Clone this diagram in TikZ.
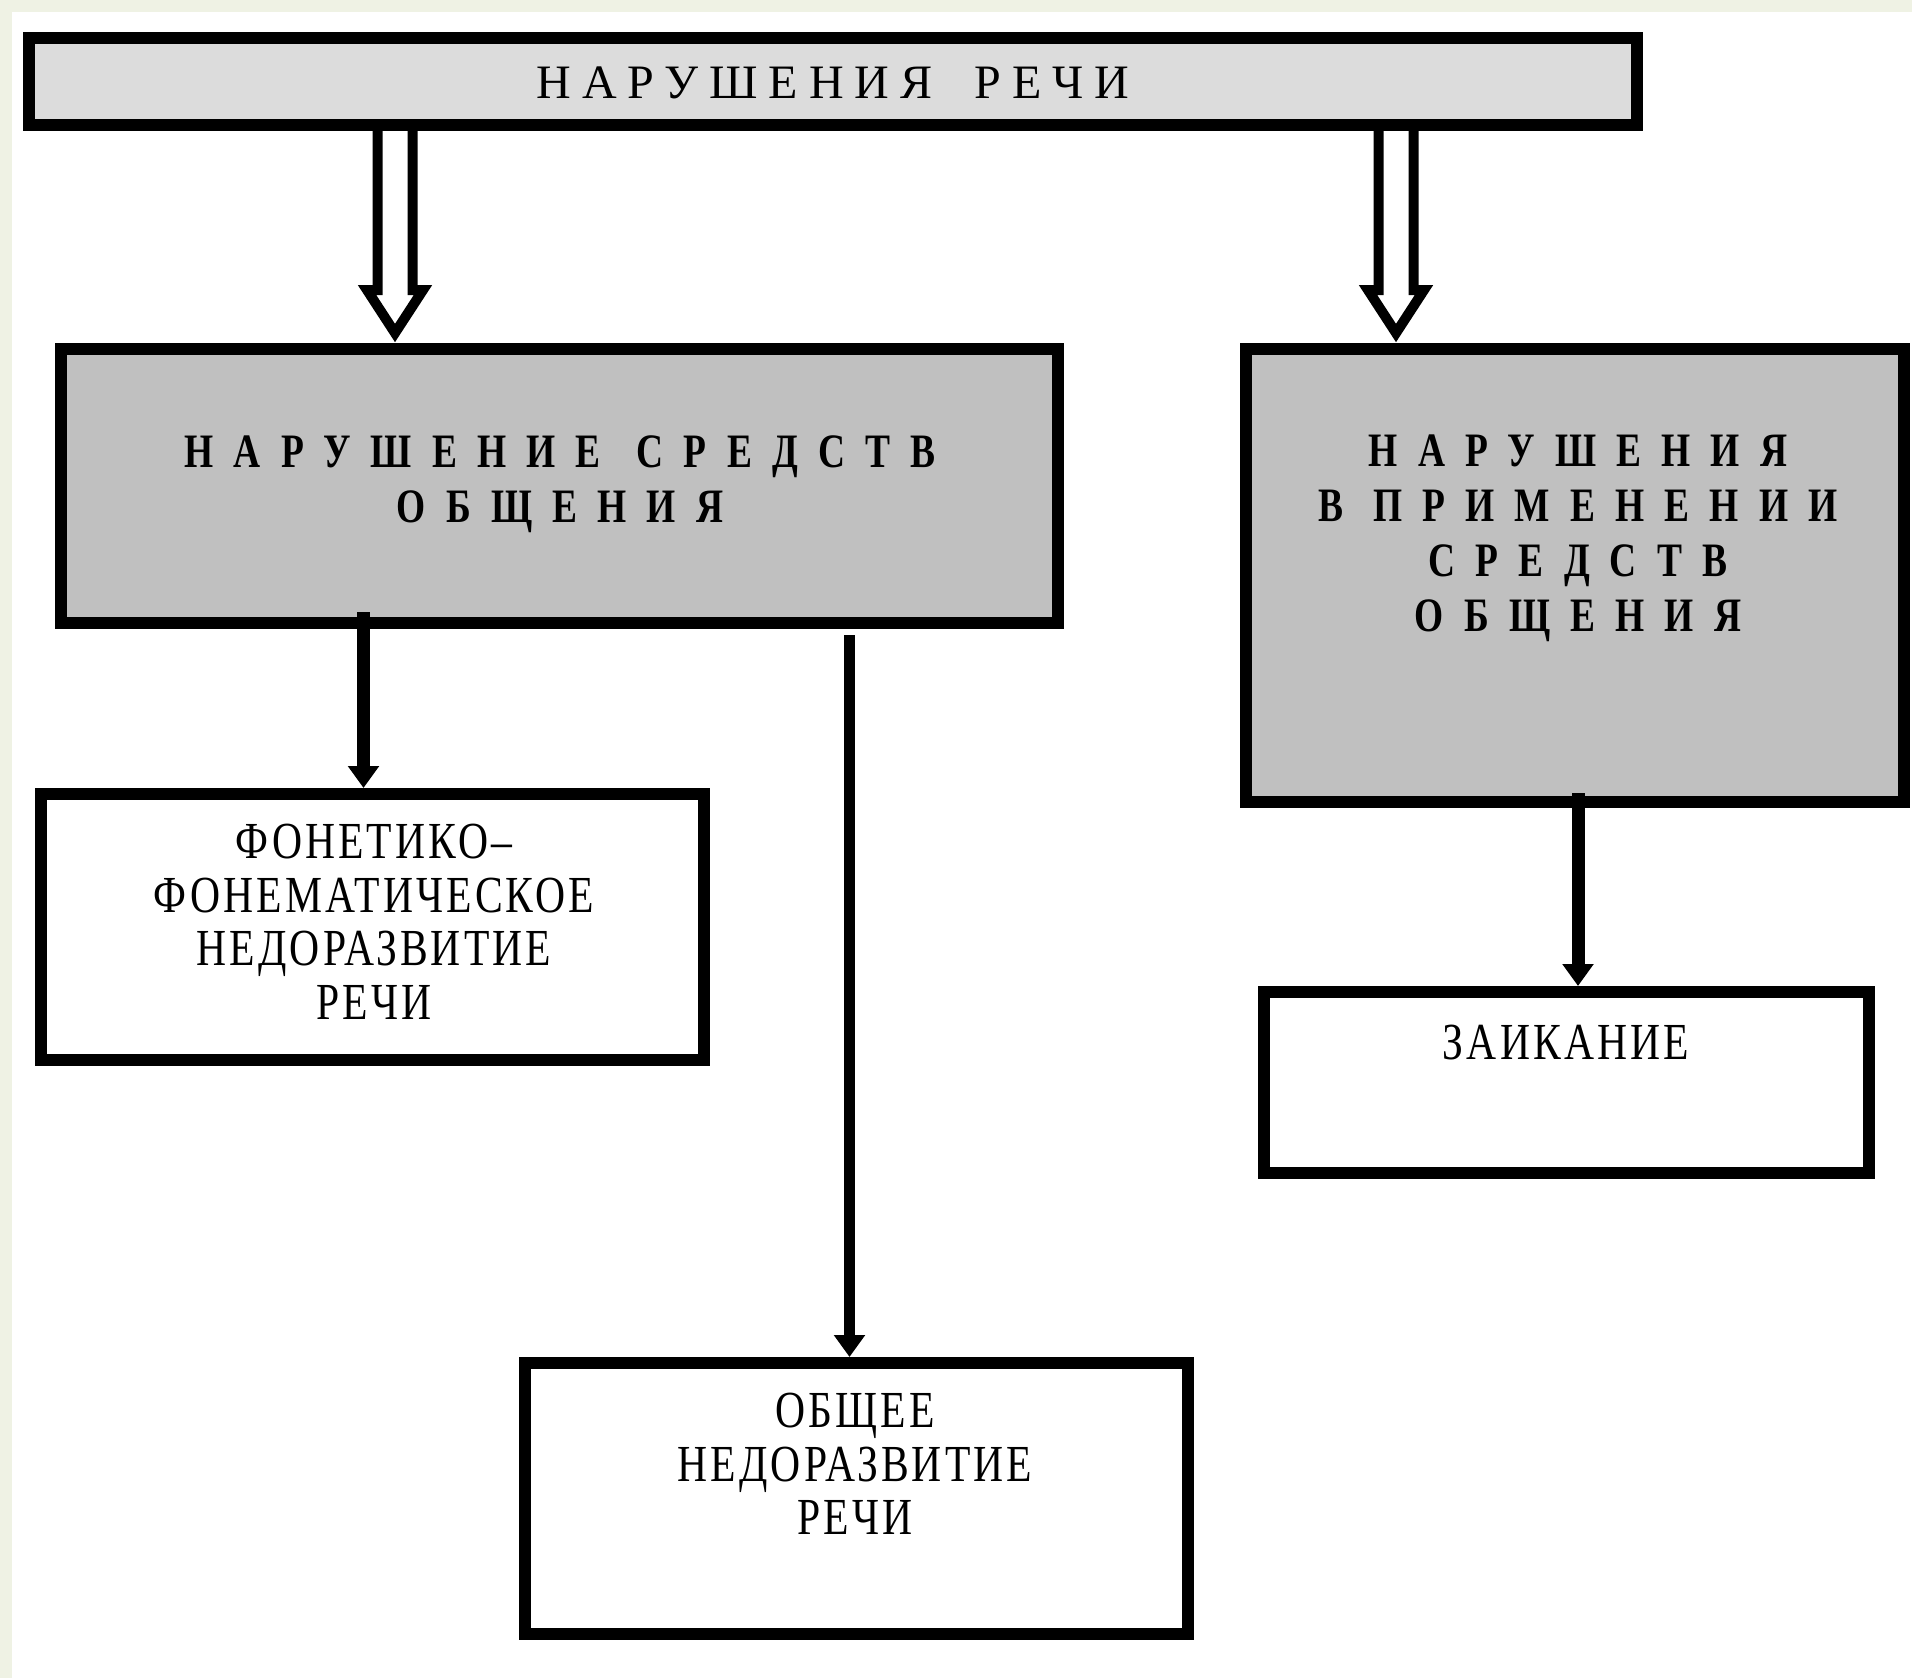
\documentclass[tikz,border=0pt]{standalone}
\usepackage{fontspec}
\setmainfont{Liberation Serif}
\newfontfamily\topfont{Liberation Serif}[LetterSpace=23]
\newfontfamily\headfont{Liberation Serif}[FakeStretch=0.78,LetterSpace=42]
\newfontfamily\leaffont{Liberation Serif}[FakeStretch=0.8,LetterSpace=6]
\usetikzlibrary{arrows.meta,calc}
\definecolor{bgtint}{HTML}{EFF2E4}
\definecolor{barfill}{HTML}{DCDCDC}
\definecolor{headfill}{HTML}{C0C0C0}
\tikzset{
  boxbase/.style={draw=black, line width=12pt, rectangle, inner sep=0pt, outer sep=0pt},
  topbar/.style={boxbase, fill=barfill},
  headbox/.style={boxbase, fill=headfill},
  leafbox/.style={boxbase, fill=white},
  bartext/.style={font=\topfont\fontsize{48}{55}\selectfont, inner sep=0pt},
  headtext/.style={font=\headfont\bfseries\fontsize{48}{55}\selectfont, align=center, inner sep=0pt},
  leaftext/.style={font=\leaffont\fontsize{52}{53.5}\selectfont, align=center, inner sep=0pt},
  blockarrow/.style={draw=black, fill=white, line width=10pt, line join=miter},
  flowarrow/.style={draw=black, line width=13pt, -{Triangle[width=30pt,length=22pt]}},
  thinflow/.style={draw=black, line width=11pt, -{Triangle[width=30pt,length=22pt]}},
}
\newcommand\hollowarrow[2]{%
  \draw[blockarrow] ($(#1)+(-17.5,0)$) -- ($(#2)+(-17.5,-59)$) -- ($(#2)+(-28,-59)$)
    -- ($(#2)+(0,-16)$) -- ($(#2)+(28,-59)$) -- ($(#2)+(17.5,-59)$) -- ($(#1)+(17.5,0)$);}
\begin{document}
\begin{tikzpicture}[x=1pt,y=-1pt]
\useasboundingbox (0,0) rectangle (1912,1678);
\fill[bgtint] (0,0) rectangle (1912,1678);
\fill[white] (12,12) rectangle (1912,1678);

% boxes
\node[topbar, minimum width=1608pt, minimum height=87pt] (T) at (833,81.5) {};
\node[headbox, minimum width=997pt, minimum height=274pt] (A) at (559.5,486) {};
\node[headbox, minimum width=658pt, minimum height=453pt] (B) at (1575,575.5) {};
\node[leafbox, minimum width=663pt, minimum height=266pt] (C) at (372.5,927) {};
\node[leafbox, minimum width=663pt, minimum height=271pt] (D) at (856.5,1498.5) {};
\node[leafbox, minimum width=605pt, minimum height=181pt] (E) at (1566.5,1082.5) {};

% texts
\node[bartext] (Tt) at (833,83) {НАРУШЕНИЯ\hspace{42pt}РЕЧИ};
\node[headtext] (At) at (560,484) {НАРУШЕНИЕ\hspace{36pt}СРЕДСТВ\\ОБЩЕНИЯ};
\node[headtext] (Bt) at (1578,538) {НАРУШЕНИЯ\\В ПРИМЕНЕНИИ\\СРЕДСТВ\\ОБЩЕНИЯ};
\node[leaftext] (Ct) at (374,922) {ФОНЕТИКО–\\ФОНЕМАТИЧЕСКОЕ\\НЕДОРАЗВИТИЕ\\РЕЧИ};
\node[leaftext] (Dt) at (855,1464) {ОБЩЕЕ\\НЕДОРАЗВИТИЕ\\РЕЧИ};
\node[leaftext] (Et) at (1566,1043) {ЗАИКАНИЕ};

% helper x positions
\coordinate (xl) at (395,0);
\coordinate (xr) at (1396,0);
\coordinate (xac) at (363.5,0);
\coordinate (xad) at (849.5,0);
\coordinate (xbe) at (1578,0);

% hollow arrows
\path (T.south -| xl) ++(0,6) coordinate (hl0);
\path (A.north -| xl) coordinate (hl1);
\path (T.south -| xr) ++(0,6) coordinate (hr0);
\path (B.north -| xr) coordinate (hr1);
\hollowarrow{hl0}{hl1}
\hollowarrow{hr0}{hr1}

% solid arrows
\draw[flowarrow] ($(A.south -| xac)+(0,-11)$) -- ($(C.north -| xac)+(0,-6)$);
\draw[thinflow] ($(A.south -| xad)+(0,12)$) -- ($(D.north -| xad)+(0,-6)$);
\draw[flowarrow] ($(B.south -| xbe)+(0,-9)$) -- ($(E.north -| xbe)+(0,-6)$);
\end{tikzpicture}
\end{document}
